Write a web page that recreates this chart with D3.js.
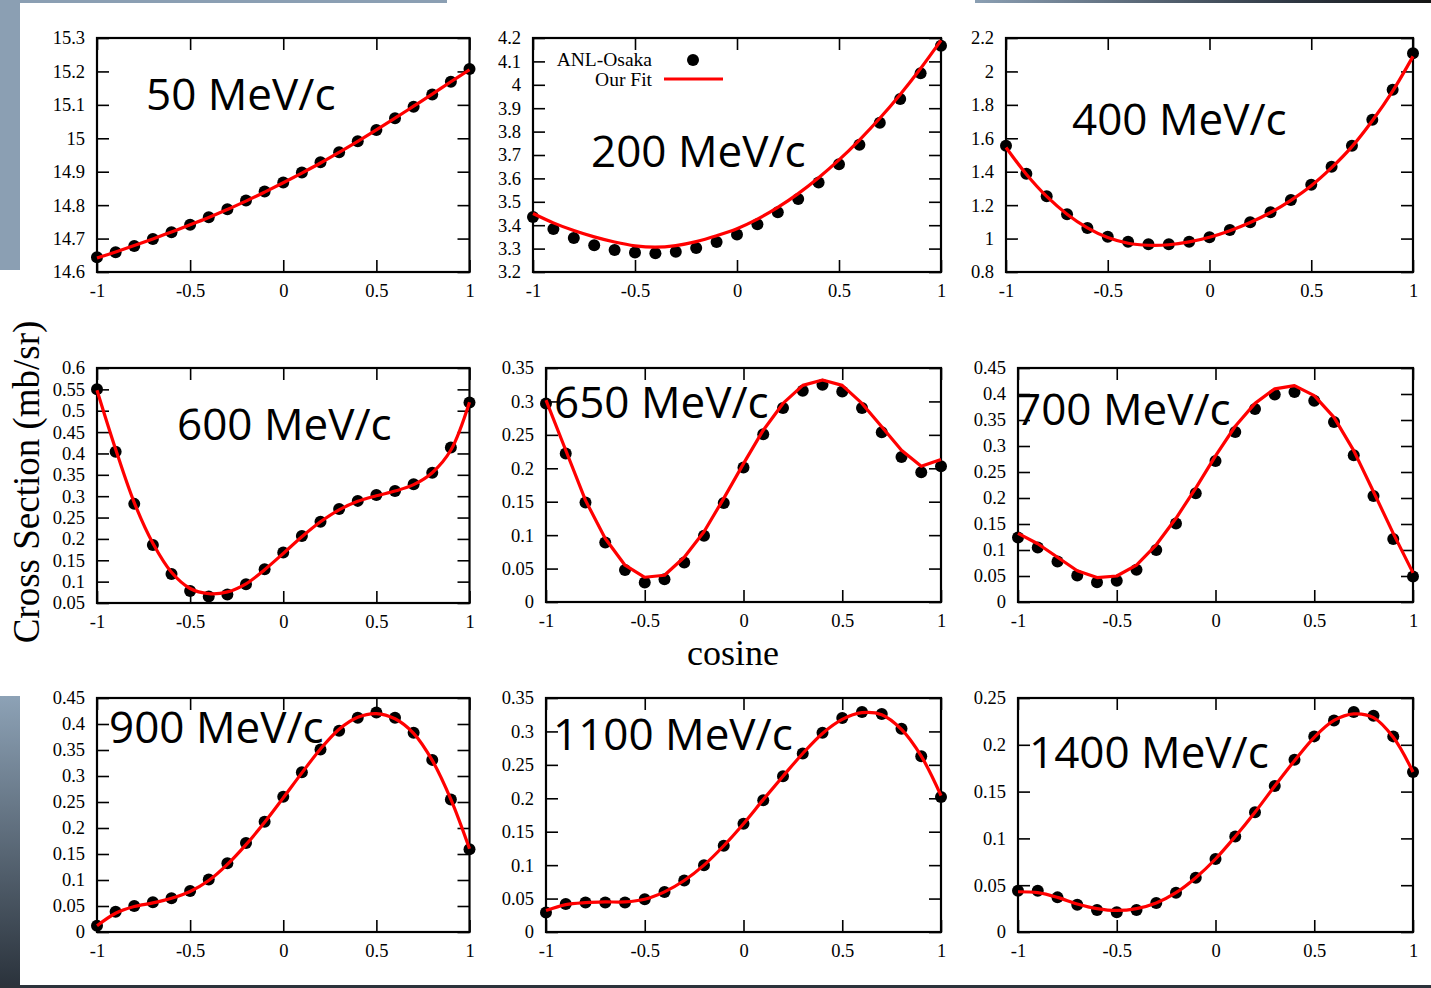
<!DOCTYPE html>
<html>
<head>
<meta charset="utf-8">
<script src="https://cdn.jsdelivr.net/npm/d3@7"></script>
<style>
  body { margin: 0; background: #fff; }
  svg { display: block; }
</style>
</head>
<body>
<div id="chart"></div>
<script>
// Scattering angle grid (cosine) shared by every panel
const cosine = [-1, -0.9, -0.8, -0.7, -0.6, -0.5, -0.4, -0.3, -0.2, -0.1, 0,
                0.1, 0.2, 0.3, 0.4, 0.5, 0.6, 0.7, 0.8, 0.9, 1];
const xTicks = [-1, -0.5, 0, 0.5, 1];

// Panel titles
const momenta = ['50 MeV/c', '200 MeV/c', '400 MeV/c', '600 MeV/c', '650 MeV/c',
                 '700 MeV/c', '900 MeV/c', '1100 MeV/c', '1400 MeV/c'];

// ANL-Osaka points (mb/sr)
const anl50   = [14.644, 14.659, 14.678, 14.699, 14.719, 14.741, 14.764, 14.788, 14.814, 14.841, 14.868,
                 14.898, 14.928, 14.958, 14.991, 15.025, 15.060, 15.094, 15.131, 15.169, 15.207];
const anl200  = [3.435, 3.384, 3.345, 3.314, 3.294, 3.283, 3.280, 3.287, 3.303, 3.328, 3.360,
                 3.404, 3.455, 3.512, 3.582, 3.660, 3.744, 3.838, 3.939, 4.049, 4.167];
const anl400  = [1.556, 1.388, 1.253, 1.145, 1.063, 1.011, 0.981, 0.966, 0.966, 0.981, 1.008,
                 1.051, 1.097, 1.157, 1.231, 1.322, 1.430, 1.556, 1.711, 1.891, 2.109];
const anl600  = [0.550, 0.404, 0.282, 0.186, 0.118, 0.078, 0.065, 0.070, 0.094, 0.129, 0.168,
                 0.207, 0.240, 0.270, 0.289, 0.303, 0.312, 0.328, 0.355, 0.414, 0.519];
const anl650  = [0.297, 0.222, 0.149, 0.089, 0.048, 0.029, 0.034, 0.059, 0.099, 0.148, 0.201,
                 0.251, 0.290, 0.316, 0.325, 0.315, 0.290, 0.254, 0.217, 0.194, 0.203];
const anl700  = [0.124, 0.105, 0.078, 0.051, 0.038, 0.041, 0.062, 0.100, 0.151, 0.209, 0.271,
                 0.327, 0.371, 0.399, 0.404, 0.387, 0.346, 0.282, 0.204, 0.121, 0.049];
const anl900  = [0.012, 0.039, 0.050, 0.057, 0.065, 0.079, 0.101, 0.132, 0.171, 0.212, 0.260,
                 0.307, 0.351, 0.387, 0.412, 0.422, 0.412, 0.383, 0.331, 0.255, 0.159];
const anl1100 = [0.029, 0.042, 0.044, 0.044, 0.044, 0.049, 0.060, 0.077, 0.100, 0.129, 0.162,
                 0.197, 0.233, 0.267, 0.298, 0.320, 0.329, 0.326, 0.304, 0.263, 0.202];
const anl1400 = [0.044, 0.044, 0.037, 0.029, 0.0235, 0.021, 0.0235, 0.031, 0.042, 0.058, 0.078,
                 0.102, 0.128, 0.156, 0.184, 0.209, 0.226, 0.235, 0.231, 0.209, 0.171];

// Our Fit (mb/sr)
const fit50   = [14.642, 14.660, 14.679, 14.699, 14.720, 14.741, 14.763, 14.787, 14.812, 14.839, 14.867,
                 14.896, 14.926, 14.958, 14.991, 15.025, 15.060, 15.096, 15.132, 15.169, 15.205];
const fit200  = [3.450, 3.410, 3.377, 3.350, 3.328, 3.312, 3.306, 3.313, 3.330, 3.355, 3.385,
                 3.426, 3.476, 3.535, 3.603, 3.679, 3.764, 3.857, 3.959, 4.070, 4.190];
const fit400  = [1.545, 1.385, 1.252, 1.146, 1.064, 1.006, 0.972, 0.960, 0.963, 0.980, 1.008,
                 1.047, 1.096, 1.156, 1.229, 1.316, 1.424, 1.550, 1.705, 1.882, 2.090];
const fit600  = [0.548, 0.410, 0.285, 0.190, 0.122, 0.084, 0.072, 0.076, 0.095, 0.128, 0.166,
                 0.205, 0.240, 0.268, 0.288, 0.301, 0.312, 0.327, 0.355, 0.408, 0.520];
const fit650  = [0.302, 0.227, 0.152, 0.095, 0.055, 0.037, 0.040, 0.067, 0.105, 0.155, 0.207,
                 0.257, 0.297, 0.324, 0.332, 0.324, 0.297, 0.262, 0.227, 0.203, 0.213];
const fit700  = [0.132, 0.112, 0.086, 0.060, 0.047, 0.050, 0.071, 0.110, 0.161, 0.219, 0.281,
                 0.338, 0.382, 0.410, 0.416, 0.397, 0.355, 0.291, 0.212, 0.132, 0.056];
const fit900  = [0.012, 0.036, 0.049, 0.056, 0.065, 0.078, 0.099, 0.130, 0.168, 0.211, 0.258,
                 0.306, 0.352, 0.390, 0.413, 0.420, 0.410, 0.382, 0.330, 0.255, 0.160];
const fit1100 = [0.032, 0.041, 0.044, 0.045, 0.045, 0.049, 0.060, 0.077, 0.100, 0.129, 0.162,
                 0.198, 0.233, 0.267, 0.297, 0.318, 0.328, 0.325, 0.303, 0.263, 0.204];
const fit1400 = [0.043, 0.042, 0.037, 0.030, 0.025, 0.023, 0.025, 0.031, 0.042, 0.058, 0.078,
                 0.102, 0.128, 0.156, 0.183, 0.208, 0.226, 0.233, 0.229, 0.208, 0.171];

// Y tick labels of each panel
const yTicks50   = [14.6, 14.7, 14.8, 14.9, 15, 15.1, 15.2, 15.3];
const yTicks200  = [3.2, 3.3, 3.4, 3.5, 3.6, 3.7, 3.8, 3.9, 4, 4.1, 4.2];
const yTicks400  = [0.8, 1, 1.2, 1.4, 1.6, 1.8, 2, 2.2];
const yTicks600  = [0.05, 0.1, 0.15, 0.2, 0.25, 0.3, 0.35, 0.4, 0.45, 0.5, 0.55, 0.6];
const yTicks650  = [0, 0.05, 0.1, 0.15, 0.2, 0.25, 0.3, 0.35];
const yTicks700  = [0, 0.05, 0.1, 0.15, 0.2, 0.25, 0.3, 0.35, 0.4, 0.45];
const yTicks900  = [0, 0.05, 0.1, 0.15, 0.2, 0.25, 0.3, 0.35, 0.4, 0.45];
const yTicks1100 = [0, 0.05, 0.1, 0.15, 0.2, 0.25, 0.3, 0.35];
const yTicks1400 = [0, 0.05, 0.1, 0.15, 0.2, 0.25];

const seriesNames = ['ANL-Osaka', 'Our Fit'];

const panels = [
    { anl: anl50,   fit: fit50,   yTicks: yTicks50 },
    { anl: anl200,  fit: fit200,  yTicks: yTicks200 },
    { anl: anl400,  fit: fit400,  yTicks: yTicks400 },
    { anl: anl600,  fit: fit600,  yTicks: yTicks600 },
    { anl: anl650,  fit: fit650,  yTicks: yTicks650 },
    { anl: anl700,  fit: fit700,  yTicks: yTicks700 },
    { anl: anl900,  fit: fit900,  yTicks: yTicks900 },
    { anl: anl1100, fit: fit1100, yTicks: yTicks1100 },
    { anl: anl1400, fit: fit1400, yTicks: yTicks1400 }
].map((p, i) => ({ ...p, label: momenta[i] }));

// Layout: plot boxes [left, top, right, bottom] and title anchors
const boxes = [
    [97, 38, 469.5, 272], [533, 38, 941, 272], [1006, 38, 1413, 272],
    [97, 368, 469.5, 603], [546, 368, 941, 602], [1018, 368, 1413, 602],
    [97, 698, 469.5, 932], [546, 698, 941, 932], [1018, 698, 1413, 932]
];
const titlePos = [
    [146, 110], [591, 167], [1072, 135],
    [177, 440], [554, 418], [1016, 425],
    [109, 743], [553, 750], [1029, 768]
];
const polyline = [false, false, false, false, true, true, false, false, false];

const serif = '"Liberation Serif", "Times New Roman", serif';
const sans = '"Open Sans", "Noto Sans", sans-serif';

// Create the SVG container
const svg = d3.select('#chart')
    .append('svg')
    .attr('width', 1431)
    .attr('height', 988);

// Slide decoration around the figure
const defs = svg.append('defs');
const gradTop = defs.append('linearGradient').attr('id', 'gradTop')
    .attr('x1', '0%').attr('x2', '100%').attr('y1', '0%').attr('y2', '0%');
gradTop.append('stop').attr('offset', '0%').attr('stop-color', '#8b9fb3');
gradTop.append('stop').attr('offset', '70%').attr('stop-color', '#2e3742');
gradTop.append('stop').attr('offset', '100%').attr('stop-color', '#141414');
const gradSide = defs.append('linearGradient').attr('id', 'gradSide')
    .attr('x1', '0%').attr('x2', '0%').attr('y1', '0%').attr('y2', '100%');
gradSide.append('stop').attr('offset', '0%').attr('stop-color', '#8da2b6');
gradSide.append('stop').attr('offset', '100%').attr('stop-color', '#2a323b');

svg.append('rect').attr('x', 0).attr('y', 0).attr('width', 447).attr('height', 3).attr('fill', '#8b9fb3');
svg.append('rect').attr('x', 0).attr('y', 0).attr('width', 20).attr('height', 270).attr('fill', '#8b9fb3');
svg.append('rect').attr('x', 975).attr('y', 0).attr('width', 456).attr('height', 3).attr('fill', 'url(#gradTop)');
svg.append('rect').attr('x', 0).attr('y', 696).attr('width', 20).attr('height', 292).attr('fill', 'url(#gradSide)');
svg.append('rect').attr('x', 0).attr('y', 985).attr('width', 1431).attr('height', 3).attr('fill', '#2c333b');

const styleAxis = g => {
    g.select('.domain').remove();
    g.selectAll('line').attr('stroke', '#000').attr('stroke-width', 1.6);
    g.selectAll('text').attr('fill', '#000');
    g.attr('font-family', serif).attr('font-size', 18.5);
};

// Draw one panel
const renderPanel = (p, i) => {
    const [x0, y0, x1, y1] = boxes[i];
    const xScale = d3.scaleLinear().domain([-1, 1]).range([x0, x1]);
    const yScale = d3.scaleLinear()
        .domain([p.yTicks[0], p.yTicks[p.yTicks.length - 1]])
        .range([y1, y0]);
    const g = svg.append('g');

    // Inward ticks on all four sides
    g.append('g')
        .attr('transform', `translate(0, ${y1})`)
        .call(d3.axisBottom(xScale).tickValues(xTicks).tickSize(-12).tickPadding(12).tickFormat(d => String(d)))
        .call(styleAxis);
    g.append('g')
        .attr('transform', `translate(0, ${y0})`)
        .call(d3.axisTop(xScale).tickValues(xTicks).tickSize(-12).tickFormat(''))
        .call(styleAxis);
    g.append('g')
        .attr('transform', `translate(${x0}, 0)`)
        .call(d3.axisLeft(yScale).tickValues(p.yTicks).tickSize(-12).tickPadding(12).tickFormat(d => String(d)))
        .call(styleAxis);
    g.append('g')
        .attr('transform', `translate(${x1}, 0)`)
        .call(d3.axisRight(yScale).tickValues(p.yTicks).tickSize(-12).tickFormat(''))
        .call(styleAxis);

    // Panel title
    g.append('text')
        .attr('x', titlePos[i][0])
        .attr('y', titlePos[i][1])
        .attr('font-family', sans)
        .attr('font-size', 44)
        .attr('fill', '#000')
        .text(p.label);

    // Frame
    g.append('rect')
        .attr('x', x0).attr('y', y0)
        .attr('width', x1 - x0).attr('height', y1 - y0)
        .attr('fill', 'none')
        .attr('stroke', '#000')
        .attr('stroke-width', 2.2);

    // ANL-Osaka points
    g.selectAll('.dot')
        .data(p.anl)
        .join('circle')
            .attr('cx', (d, j) => xScale(cosine[j]))
            .attr('cy', d => yScale(d))
            .attr('r', 6)
            .attr('fill', '#000');

    // Our Fit
    const line = d3.line()
        .x((d, j) => xScale(cosine[j]))
        .y(d => yScale(d))
        .curve(polyline[i] ? d3.curveLinear : d3.curveCatmullRom);
    g.append('path')
        .datum(p.fit)
        .attr('fill', 'none')
        .attr('stroke', '#ff0000')
        .attr('stroke-width', 3.2)
        .attr('stroke-linejoin', 'round')
        .attr('d', line);
};

panels.forEach(renderPanel);

// Legend inside the 200 MeV/c panel
const legend = svg.append('g')
    .attr('font-family', serif)
    .attr('font-size', 19.5)
    .attr('text-anchor', 'end');
legend.append('text').attr('x', 652).attr('y', 66).text(seriesNames[0]);
legend.append('circle').attr('cx', 693).attr('cy', 60).attr('r', 6).attr('fill', '#000');
legend.append('text').attr('x', 652).attr('y', 86).text(seriesNames[1]);
legend.append('line')
    .attr('x1', 664).attr('x2', 723)
    .attr('y1', 79).attr('y2', 79)
    .attr('stroke', '#ff0000')
    .attr('stroke-width', 3.2);

// Axis names
svg.append('text')
    .attr('transform', 'translate(39, 482) rotate(-90)')
    .attr('text-anchor', 'middle')
    .attr('font-family', serif)
    .attr('font-size', 37)
    .text('Cross Section (mb/sr)');
svg.append('text')
    .attr('x', 733)
    .attr('y', 665)
    .attr('text-anchor', 'middle')
    .attr('font-family', serif)
    .attr('font-size', 36)
    .text('cosine');
</script>
</body>
</html>
